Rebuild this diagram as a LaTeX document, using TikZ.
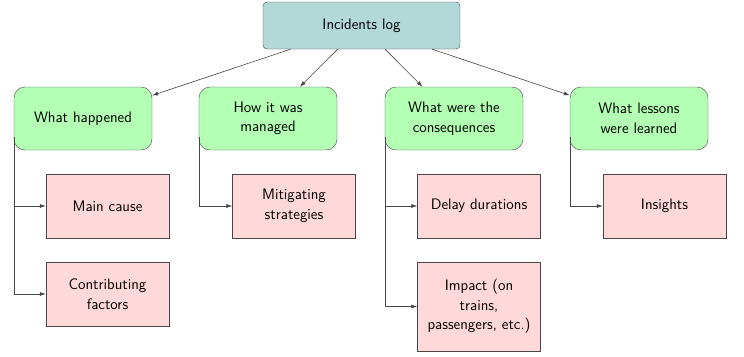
\documentclass[tikz,border=0pt]{standalone}
\usetikzlibrary{arrows.meta}
\definecolor{rootfill}{RGB}{179,216,216}
\definecolor{catfill}{RGB}{179,255,179}
\definecolor{leaffill}{RGB}{255,217,217}
\definecolor{edgegray}{RGB}{70,70,70}
\begin{document}
\begin{tikzpicture}[x=1pt,y=-1pt,
  every node/.style={font=\sffamily\fontsize{15.2}{19.5}\selectfont, align=center, inner sep=0pt},
  rootbox/.style={draw=edgegray, fill=rootfill, rounded corners=4pt, minimum width=197pt, minimum height=47pt},
  catbox/.style={draw=edgegray, fill=catfill, rounded corners=11pt, minimum width=138pt, minimum height=63pt},
  leafbox/.style={draw=edgegray, fill=leaffill, minimum width=123pt, minimum height=64pt},
  conn/.style={draw=edgegray, line width=0.6pt, -{Latex[length=6pt,width=4pt]}}]
\useasboundingbox (0,0) rectangle (744,356);
\node[rootbox] (root) at (361.5,25.5) {Incidents log};
\node[catbox] (c1) at (83,118.5) {What happened};
\node[catbox] (c2) at (268,118.5) {How it was\\managed};
\node[catbox] (c3) at (454,118.5) {What were the\\consequences};
\node[catbox] (c4) at (639,118.5) {What lessons\\were learned};
\node[leafbox] (l1) at (107.5,206) {Main cause};
\node[leafbox] (l2) at (107.5,294) {Contributing\\factors};
\node[leafbox] (l3) at (294,206) {Mitigating\\strategies};
\node[leafbox] (l4) at (479,206) {Delay durations};
\node[leafbox, minimum height=89pt] (l5) at (479,306.5) {Impact (on\\trains,\\passengers, etc.)};
\node[leafbox] (l6) at (664.5,206) {Insights};
\foreach \c in {c1,c2,c3,c4} \draw[conn] (root) -- (\c);
\coordinate (s1) at ([yshift=13pt]c1.south west);
\coordinate (s2) at ([yshift=13pt]c2.south west);
\coordinate (s3) at ([yshift=13pt]c3.south west);
\coordinate (s4) at ([yshift=13pt]c4.south west);
\draw[conn] (s1) |- (l1.west);
\draw[conn] (s1) |- (l2.west);
\draw[conn] (s2) |- (l3.west);
\draw[conn] (s3) |- (l4.west);
\draw[conn] (s3) |- (l5.west);
\draw[conn] (s4) |- (l6.west);
\end{tikzpicture}
\end{document}
